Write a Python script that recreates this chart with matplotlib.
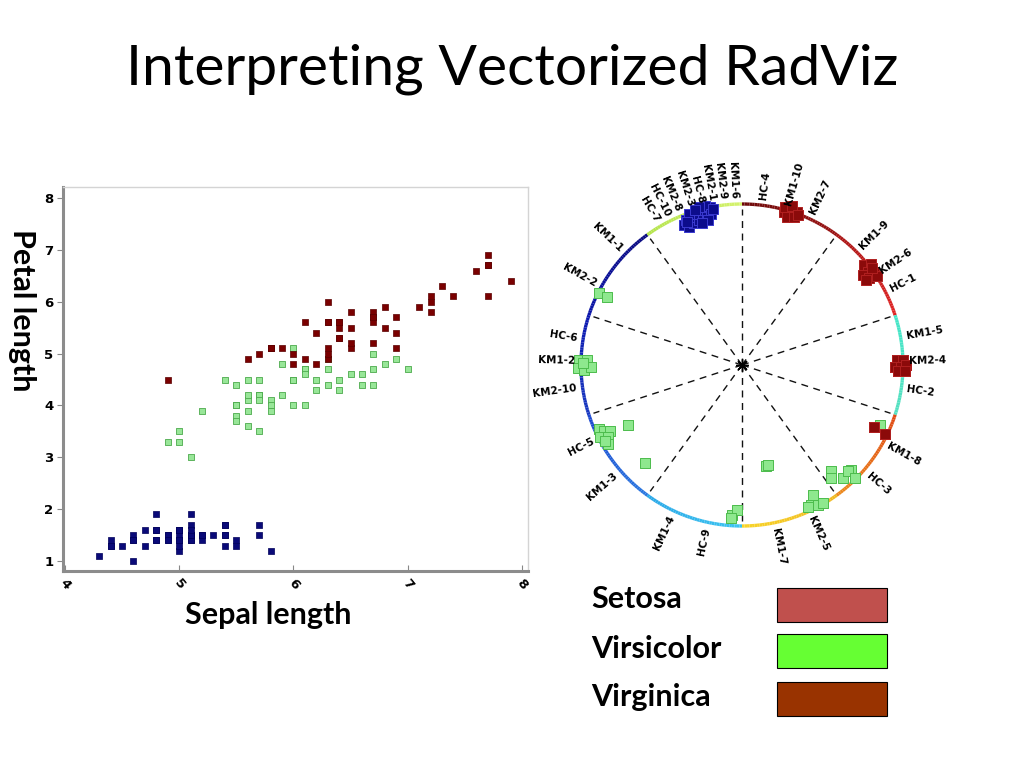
import numpy as np
import matplotlib
matplotlib.use("Agg")
import matplotlib.pyplot as plt
from matplotlib.collections import LineCollection
from matplotlib.patches import Rectangle
import matplotlib.colors as mcolors

# ---------------- data: scatter (sepal length vs petal length) ----------------
setosa_sepal = [5.1, 4.9, 4.7, 4.6, 5.0, 5.4, 4.6, 5.0, 4.4, 4.9, 5.4, 4.8, 4.8, 4.3, 5.8,
                5.7, 5.4, 5.1, 5.7, 5.1, 5.4, 5.1, 4.6, 5.1, 4.8, 5.0, 5.0, 5.2, 5.2, 4.7,
                4.8, 5.4, 5.2, 5.5, 4.9, 5.0, 5.5, 4.9, 4.4, 5.1, 5.0, 4.5, 4.4, 5.0, 5.1,
                4.8, 5.1, 4.6, 5.3, 5.0]
setosa_petal = [1.4, 1.4, 1.3, 1.5, 1.4, 1.7, 1.4, 1.5, 1.4, 1.5, 1.5, 1.6, 1.4, 1.1, 1.2,
                1.5, 1.3, 1.4, 1.7, 1.5, 1.7, 1.5, 1.0, 1.7, 1.9, 1.6, 1.6, 1.5, 1.4, 1.6,
                1.6, 1.5, 1.5, 1.4, 1.5, 1.2, 1.3, 1.4, 1.3, 1.5, 1.3, 1.3, 1.3, 1.6, 1.9,
                1.4, 1.6, 1.4, 1.5, 1.4]
versicolor_sepal = [7.0, 6.4, 6.9, 5.5, 6.5, 5.7, 6.3, 4.9, 6.6, 5.2, 5.0, 5.9, 6.0, 6.1, 5.6,
                    6.7, 5.6, 5.8, 6.2, 5.6, 5.9, 6.1, 6.3, 6.1, 6.4, 6.6, 6.8, 6.7, 6.0, 5.7,
                    5.5, 5.5, 5.8, 6.0, 5.4, 6.0, 6.7, 6.3, 5.6, 5.5, 5.5, 6.1, 5.8, 5.0, 5.6,
                    5.7, 5.7, 6.2, 5.1, 5.7]
versicolor_petal = [4.7, 4.5, 4.9, 4.0, 4.6, 4.5, 4.7, 3.3, 4.6, 3.9, 3.5, 4.2, 4.0, 4.7, 3.6,
                    4.4, 4.5, 4.1, 4.5, 3.9, 4.8, 4.0, 4.9, 4.7, 4.3, 4.4, 4.8, 5.0, 4.5, 3.5,
                    3.8, 3.7, 3.9, 5.1, 4.5, 4.5, 4.7, 4.4, 4.1, 4.0, 4.4, 4.6, 4.0, 3.3, 4.2,
                    4.2, 4.2, 4.3, 3.0, 4.1]
virginica_sepal = [6.3, 5.8, 7.1, 6.3, 6.5, 7.6, 4.9, 7.3, 6.7, 7.2, 6.5, 6.4, 6.8, 5.7, 5.8,
                   6.4, 6.5, 7.7, 7.7, 6.0, 6.9, 5.6, 7.7, 6.3, 6.7, 7.2, 6.2, 6.1, 6.4, 7.2,
                   7.4, 7.9, 6.4, 6.3, 6.1, 7.7, 6.3, 6.4, 6.0, 6.9, 6.7, 6.9, 5.8, 6.8, 6.7,
                   6.7, 6.3, 6.5, 6.2, 5.9]
virginica_petal = [6.0, 5.1, 5.9, 5.6, 5.8, 6.6, 4.5, 6.3, 5.8, 6.1, 5.1, 5.3, 5.5, 5.0, 5.1,
                   5.3, 5.5, 6.7, 6.9, 5.0, 5.7, 4.9, 6.7, 4.9, 5.7, 6.0, 4.8, 4.9, 5.6, 5.8,
                   6.1, 6.4, 5.6, 5.1, 5.6, 6.1, 5.6, 5.5, 4.8, 5.4, 5.6, 5.1, 5.1, 5.9, 5.7,
                   5.2, 5.0, 5.2, 5.4, 5.1]
x_ticks = [4, 5, 6, 7, 8]
y_ticks = [1, 2, 3, 4, 5, 6, 7, 8]

# ---------------- data: RadViz projected points (unit circle coords) ----------------
rv_setosa_x = [-0.36, -0.33, -0.30, -0.35, -0.31, -0.27, -0.28, -0.24, -0.25, -0.22,
               -0.20, -0.23, -0.19, -0.27, -0.21, -0.33, -0.18, -0.29, -0.25, -0.34]
rv_setosa_y = [0.87, 0.86, 0.88, 0.90, 0.92, 0.90, 0.94, 0.92, 0.96, 0.95,
               0.98, 0.99, 0.94, 0.98, 0.90, 0.94, 0.97, 0.96, 0.88, 0.89]
rv_versicolor_x = [-0.89, -0.84, -1.01, -0.96, -1.02, -0.98, -0.94, -0.99,
                   -0.89, -0.86, -0.82, -0.88, -0.83, -0.83, -0.85, -0.71, -0.60,
                   -0.06, -0.03, -0.07, 0.15, 0.16, 0.55, 0.55, 0.63, 0.68, 0.66, 0.70,
                   0.44, 0.43, 0.47, 0.50, 0.41, 0.86, 0.99]
rv_versicolor_y = [0.45, 0.42, 0.03, 0.03, -0.02, -0.03, -0.01, 0.01,
                   -0.40, -0.41, -0.41, -0.45, -0.45, -0.49, -0.47, -0.37, -0.61,
                   -0.93, -0.90, -0.95, -0.63, -0.62, -0.66, -0.70, -0.70, -0.65, -0.66, -0.70,
                   -0.81, -0.87, -0.87, -0.86, -0.88, -0.37, 0.02]
rv_virginica_x = [0.26, 0.30, 0.34, 0.28, 0.32, 0.27, 0.31, 0.35,
                  0.76, 0.80, 0.78, 0.82, 0.75, 0.79, 0.84, 0.81, 0.77,
                  0.96, 1.00, 0.95, 0.99, 1.02, 0.97, 1.01,
                  0.82, 0.89, -0.99]
rv_virginica_y = [0.95, 0.96, 0.95, 0.92, 0.92, 0.98, 0.99, 0.93,
                  0.62, 0.63, 0.58, 0.58, 0.56, 0.54, 0.55, 0.60, 0.53,
                  0.03, 0.03, -0.01, -0.01, 0.00, -0.04, -0.04,
                  -0.385, -0.43, 0.02]

# dimension anchors (labels) and their angular positions (degrees)
rv_labels = ["KM1-6", "HC-4", "KM1-10", "KM2-7", "KM1-9", "KM2-6", "HC-1", "KM1-5",
             "KM2-4", "HC-2", "KM1-8", "HC-3", "KM2-5", "KM1-7", "HC-9", "KM1-4",
             "KM1-3", "HC-5", "KM2-10", "KM1-2", "HC-6", "KM2-2", "KM1-1", "HC-7",
             "HC-10", "KM2-8", "KM2-3", "HC-8", "KM2-1", "KM2-9"]
rv_label_angles = [92.8, 82.9, 74.0, 65.0, 44.5, 34.0, 27.0, 10.0,
                   1.3, -8.3, -29.0, -41.0, -65.6, -78.6, -102.0, -115.0,
                   -139.0, -153.0, -172.0, 178.7, 170.8, 151.0, 136.6, 120.7,
                   116.6, 112.5, 108.0, 104.4, 100.6, 96.9]

# coloured arc sectors (start angle, end angle, start colour, end colour)
sector_start = [90, 54, 18, -18, -54, -90, -126, -162, -198, -234]
sector_end = [54, 18, -18, -54, -90, -126, -162, -198, -234, -270]
sector_c0 = ["#6e0a0a", "#a81414", "#45e6c8", "#e04a14", "#f0b820", "#3cc4f0",
             "#2a78e0", "#1838c0", "#0a14a8", "#b4e44c"]
sector_c1 = ["#9a1212", "#e02424", "#55e0c0", "#ec8a1c", "#f8d428", "#2aa8e8",
             "#1c48d0", "#0c18b0", "#0a0a80", "#d4f26c"]

legend_names = ["Setosa", "Virsicolor", "Virginica"]
legend_colors = ["#c0504d", "#66ff33", "#993300"]

# ---------------- figure ----------------
fig = plt.figure(figsize=(10.24, 7.68), dpi=100)
W, H = 1024.0, 768.0

fig.text(0.5, 1 - 69 / H, "Interpreting Vectorized RadViz", ha="center", va="center",
         fontsize=41, family="Lato", color="black")

# ---------- scatter ----------
ax = fig.add_axes([63 / W, 1 - 571 / H, 465 / W, 384 / H])
ax.scatter(setosa_sepal, setosa_petal, marker="s", s=25, c="#0a0a78",
           edgecolors="#00005a", linewidths=0.5, zorder=3)
ax.scatter(versicolor_sepal, versicolor_petal, marker="s", s=25, c="#98e698",
           edgecolors="#4caa4c", linewidths=0.6, zorder=3)
ax.scatter(virginica_sepal, virginica_petal, marker="s", s=25, c="#7a0000",
           edgecolors="#5a0000", linewidths=0.5, zorder=3)
ax.set_xlim(3.983, 8.053)
ax.set_ylim(0.81, 8.21)
ax.set_xticks(x_ticks)
ax.set_yticks(y_ticks)
ax.set_xticklabels([str(v) for v in x_ticks], rotation=-50, fontweight="bold", fontsize=9.5)
ax.set_yticklabels([str(v) for v in y_ticks], fontweight="bold", fontsize=9.5)
ax.tick_params(axis="y", direction="out", length=4, width=0.8, color="#888888", pad=3)
ax.tick_params(axis="x", direction="in", length=4, width=0.8, color="#888888", pad=4)
for side in ["left", "bottom"]:
    ax.spines[side].set_color("#8c8c8c")
    ax.spines[side].set_linewidth(2.2)
for side in ["top", "right"]:
    ax.spines[side].set_color("#d4d4d4")
    ax.spines[side].set_linewidth(1.0)

fig.text(268 / W, 1 - 615 / H, "Sepal length", ha="center", va="center",
         fontsize=22, fontweight="bold", family="Lato")
fig.text(22 / W, 1 - 310 / H, "Petal length", ha="center", va="center", rotation=-90,
         fontsize=22, fontweight="bold", family="Lato")

# ---------- RadViz ----------
rv = fig.add_axes([522 / W, 1 - 585 / H, 440 / W, 440 / H])
lim = 220 / 161.0
rv.set_xlim(-lim, lim)
rv.set_ylim(-lim, lim)
rv.axis("off")

segs, cols = [], []
for a0, a1, c0, c1 in zip(sector_start, sector_end, sector_c0, sector_c1):
    n = 40
    th = np.radians(np.linspace(a0, a1, n + 1))
    rgb0 = np.array(mcolors.to_rgb(c0))
    rgb1 = np.array(mcolors.to_rgb(c1))
    for i in range(n):
        segs.append([(np.cos(th[i]), np.sin(th[i])), (np.cos(th[i + 1]), np.sin(th[i + 1]))])
        t = i / (n - 1)
        cols.append(tuple(rgb0 * (1 - t) + rgb1 * t))
rv.add_collection(LineCollection(segs, colors=cols, linewidths=2.4, capstyle="butt", zorder=2))

for a in sector_start:
    r = np.radians(a)
    rv.plot([0, 0.97 * np.cos(r)], [0, 0.97 * np.sin(r)], ls=(0, (5, 4)), color="#111111",
            lw=1.0, zorder=1)
rv.plot([0], [0], marker=(8, 2, 0), ms=9, color="black", mew=1.0, zorder=4)

msz = 50
rv.scatter(rv_virginica_x, rv_virginica_y, marker="s", s=msz, c="#8b0a0a",
           edgecolors="#b02020", linewidths=0.7, zorder=3)
rv.scatter(rv_versicolor_x, rv_versicolor_y, marker="s", s=msz, c="#8ee88e",
           edgecolors="#4cbc4c", linewidths=0.7, zorder=3)
rv.scatter(rv_setosa_x, rv_setosa_y, marker="s", s=msz, c="#0c0c8c",
           edgecolors="#3a3ad0", linewidths=0.7, zorder=3)
# red squares that sit on top near KM2-4 / KM1-8
rv.scatter(rv_virginica_x[17:26], rv_virginica_y[17:26], marker="s", s=msz, c="#8b0a0a",
           edgecolors="#b02020", linewidths=0.7, zorder=3.5)

for lab, ang in zip(rv_labels, rv_label_angles):
    r = np.radians(ang)
    x, y = 1.035 * np.cos(r), 1.035 * np.sin(r)
    if -90 <= ang <= 90:
        rot, ha = ang, "left"
    else:
        rot, ha = ang - 180 if ang > 0 else ang + 180, "right"
    rv.text(x, y, lab, rotation=rot, rotation_mode="anchor", ha=ha, va="center",
            fontsize=7.5, fontweight="bold", family="DejaVu Sans", zorder=5)

# ---------- legend ----------
leg_text_y = [608, 658, 706]
leg_rect_top = [588, 634, 682]
for name, col, ty, rt in zip(legend_names, legend_colors, leg_text_y, leg_rect_top):
    fig.text(591 / W, 1 - ty / H, name, ha="left", va="baseline", fontsize=22,
             fontweight="bold", family="Lato")
    fig.add_artist(Rectangle((777 / W, 1 - (rt + 34) / H), 110 / W, 34 / H,
                             transform=fig.transFigure, facecolor=col,
                             edgecolor="black", linewidth=0.8))

fig.savefig("out.png", dpi=100)
